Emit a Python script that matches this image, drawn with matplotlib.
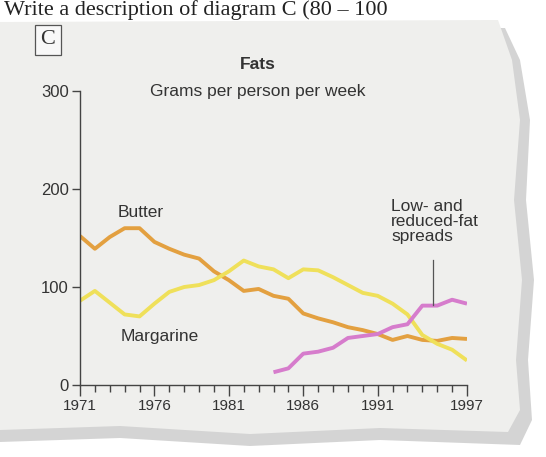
import matplotlib.pyplot as plt
import numpy as np
from matplotlib.patches import Polygon

years = list(range(1971, 1998))
butter = [152, 139, 151, 160, 160, 146, 139, 133, 129, 116, 107, 96, 98, 91, 88,
          73, 68, 64, 59, 56, 52, 46, 50, 46, 45, 48, 47]
margarine = [86, 96, 84, 72, 70, 83, 95, 100, 102, 107, 116, 127, 121, 118, 109,
             118, 117, 110, 102, 94, 91, 83, 72, 51, 42, 36, 25]
spread_years = list(range(1984, 1998))
spreads = [13, 17, 32, 34, 38, 48, 50, 52, 59, 62, 81, 81, 87, 83]

W, H = 546, 457
fig = plt.figure(figsize=(W / 100, H / 100), dpi=100)
fig.patch.set_facecolor('white')

# background: torn sheet of paper with a shadow
bg = fig.add_axes([0, 0, 1, 1], zorder=-10)
bg.set_xlim(0, W)
bg.set_ylim(H, 0)
bg.axis('off')
shadow = [(0, 30), (505, 28), (520, 60), (530, 120), (526, 200), (534, 280),
          (528, 360), (532, 420), (520, 445), (380, 440), (250, 446), (120, 438),
          (0, 442)]
paper = [(0, 22), (498, 20), (512, 60), (520, 120), (514, 200), (522, 280),
         (516, 360), (520, 410), (508, 432), (380, 428), (250, 434), (120, 426),
         (0, 430)]
bg.add_patch(Polygon(shadow, closed=True, fc='#b8b8b8', ec='none', alpha=0.6))
bg.add_patch(Polygon(paper, closed=True, fc='#efefed', ec='none'))
fig.text(4 / W, 1 - 15 / H, 'Write a description of diagram C (80 \u2013 100',
         family='Liberation Serif', fontsize=16, color='#222222', va='baseline')

plt.rcParams['font.family'] = 'Liberation Sans'

ax = fig.add_axes([80 / W, 1 - 385 / H, 387 / W, 294 / H])
ax.set_facecolor('none')
ax.plot(years, butter, color='#e3a040', lw=2.8, solid_capstyle='butt')
ax.plot(years, margarine, color='#efe05a', lw=2.8, solid_capstyle='butt')
ax.plot(spread_years, spreads, color='#d67ccc', lw=2.8, solid_capstyle='butt')

ax.set_xlim(1971, 1997)
ax.set_ylim(0, 300)
for s in ['top', 'right']:
    ax.spines[s].set_visible(False)
for s in ['left', 'bottom']:
    ax.spines[s].set_color('#444444')
    ax.spines[s].set_linewidth(1.0)
ax.set_yticks([0, 100, 200, 300])
ax.set_xticks([1971, 1976, 1981, 1986, 1991, 1997])
ax.set_xticks(years, minor=True)
ax.tick_params(axis='y', length=6, width=1, color='#444444', labelsize=12,
               labelcolor='#333333', pad=2)
ax.tick_params(axis='x', which='major', length=8, width=1, color='#444444',
               labelsize=11, labelcolor='#333333', pad=2)
ax.tick_params(axis='x', which='minor', length=5, width=1, color='#444444')

ax.text(1973.5, 171, 'Butter', fontsize=12.5, color='#333333', va='baseline')
ax.text(1973.7, 45, 'Margarine', fontsize=12.5, color='#333333', va='baseline')
ax.text(1991.9, 190, 'Low- and\nreduced-fat\nspreads', fontsize=12.5,
        color='#333333', va='top', linespacing=1.0)
ax.plot([1994.7, 1994.7], [82, 128], color='#555555', lw=0.9)

fig.text(258 / W, 1 - 69 / H, 'Fats', fontsize=12.5, weight='bold',
         color='#333333', ha='center', va='baseline')
fig.text(150 / W, 1 - 96 / H, 'Grams per person per week', fontsize=12.5,
         color='#333333', va='baseline')
fig.text(48 / W, 1 - 40 / H, 'C', family='Liberation Serif', fontsize=16,
         color='#333333', ha='center', va='center',
         bbox=dict(boxstyle='square,pad=0.25', fc='#f8f8f8', ec='#555555', lw=0.9))

fig.savefig('out.png', dpi=100)
